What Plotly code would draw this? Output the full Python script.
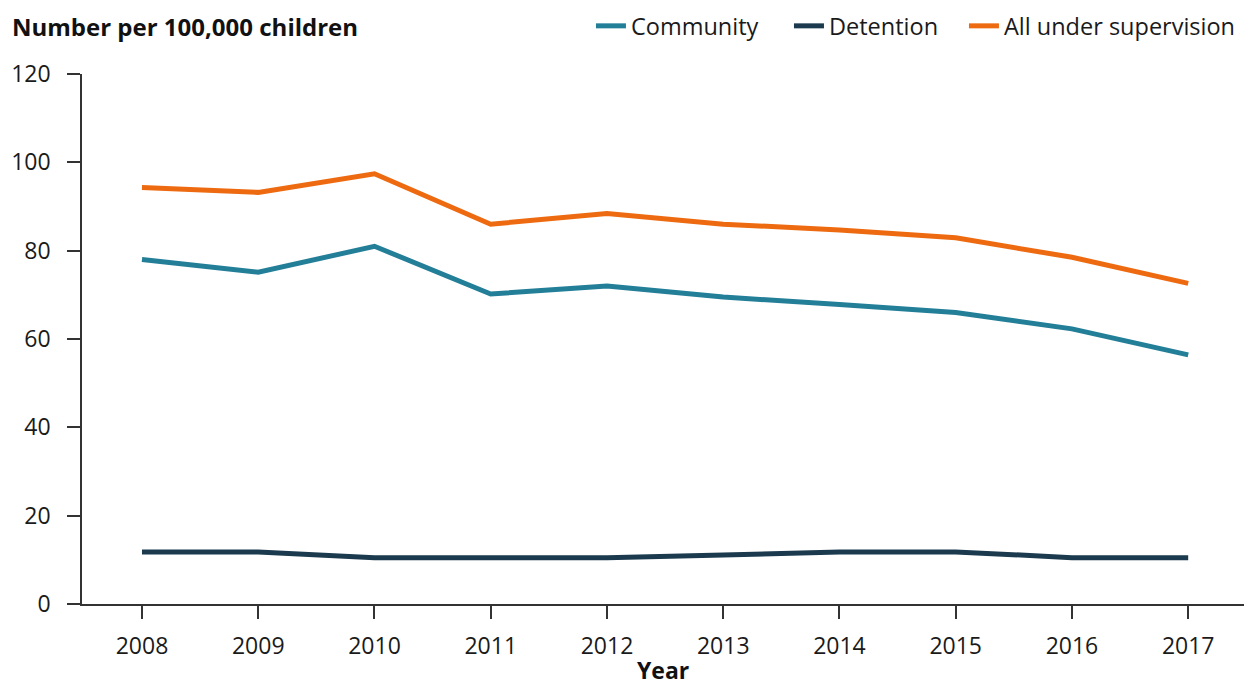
import plotly.graph_objects as go

years = [2008, 2009, 2010, 2011, 2012, 2013, 2014, 2015, 2016, 2017]
community = [78.0, 75.1, 81.0, 70.2, 72.0, 69.5, 67.8, 66.0, 62.3, 56.4]
detention = [11.8, 11.8, 10.5, 10.5, 10.5, 11.1, 11.8, 11.8, 10.5, 10.5]
all_supervision = [94.3, 93.2, 97.4, 86.0, 88.4, 86.0, 84.7, 82.9, 78.5, 72.6]
y_ticks = [0, 20, 40, 60, 80, 100, 120]

series = [
    ("Community", community, "#237E98", "legend", 0.438),
    ("Detention", detention, "#1B3A4E", "legend2", 0.6084),
    ("All under supervision", all_supervision, "#EE6A10", "legend3", 0.759),
]

FONT = "Open Sans"
fig = go.Figure()
legend_layouts = {}
for name, vals, color, leg, lx in series:
    fig.add_trace(go.Scatter(
        x=years, y=vals, name=name, mode="lines",
        line=dict(color=color, width=5), legend=leg,
    ))
    legend_layouts[leg] = dict(
        orientation="h", x=lx, xanchor="left", y=0.962, yanchor="middle",
        yref="container",
        font=dict(family=FONT, size=23.5, color="#1a1a1a"),
        itemwidth=30, bgcolor="rgba(0,0,0,0)",
    )

fig.update_layout(
    width=1244, height=686,
    margin=dict(l=82, r=0, t=74, b=82, autoexpand=False),
    paper_bgcolor="white", plot_bgcolor="white",
    font=dict(family=FONT, size=23, color="#1a1a1a"),
    showlegend=True,
    xaxis=dict(
        range=[2007.484, 2017.48], tickmode="array", tickvals=years,
        ticktext=[str(y) for y in years],
        showgrid=False, zeroline=False, showline=True, linecolor="#333333",
        linewidth=1.5, ticks="outside", ticklen=13, tickwidth=1.5, tickcolor="#333333",
        tickfont=dict(family=FONT, size=23, color="#1a1a1a"),
        ticklabelstandoff=8, automargin=False,
    ),
    yaxis=dict(
        range=[0, 120], tickmode="array", tickvals=y_ticks,
        showgrid=False, zeroline=False, showline=True, linecolor="#333333",
        linewidth=1.5, ticks="outside", ticklen=13, tickwidth=1.5, tickcolor="#333333",
        tickfont=dict(family=FONT, size=23, color="#1a1a1a"),
        ticklabelstandoff=12, automargin=False,
    ),
    annotations=[
        dict(
            text="<b>Number per 100,000 children</b>", xref="paper", yref="paper",
            x=0, y=1, xanchor="left", yanchor="middle", xshift=-72, yshift=48,
            showarrow=False, font=dict(family=FONT, size=24, color="#111111"),
        ),
        dict(
            text="<b>Year</b>", xref="paper", yref="paper",
            x=0.5, y=0, xanchor="center", yanchor="middle", yshift=-66,
            borderpad=0,
            showarrow=False, font=dict(family=FONT, size=23, color="#111111"),
        ),
    ],
    **legend_layouts,
)

fig.write_html(
    "out.html",
    config={"displayModeBar": False},
    post_script="document.body.style.margin='0';document.body.style.padding='0';",
)
